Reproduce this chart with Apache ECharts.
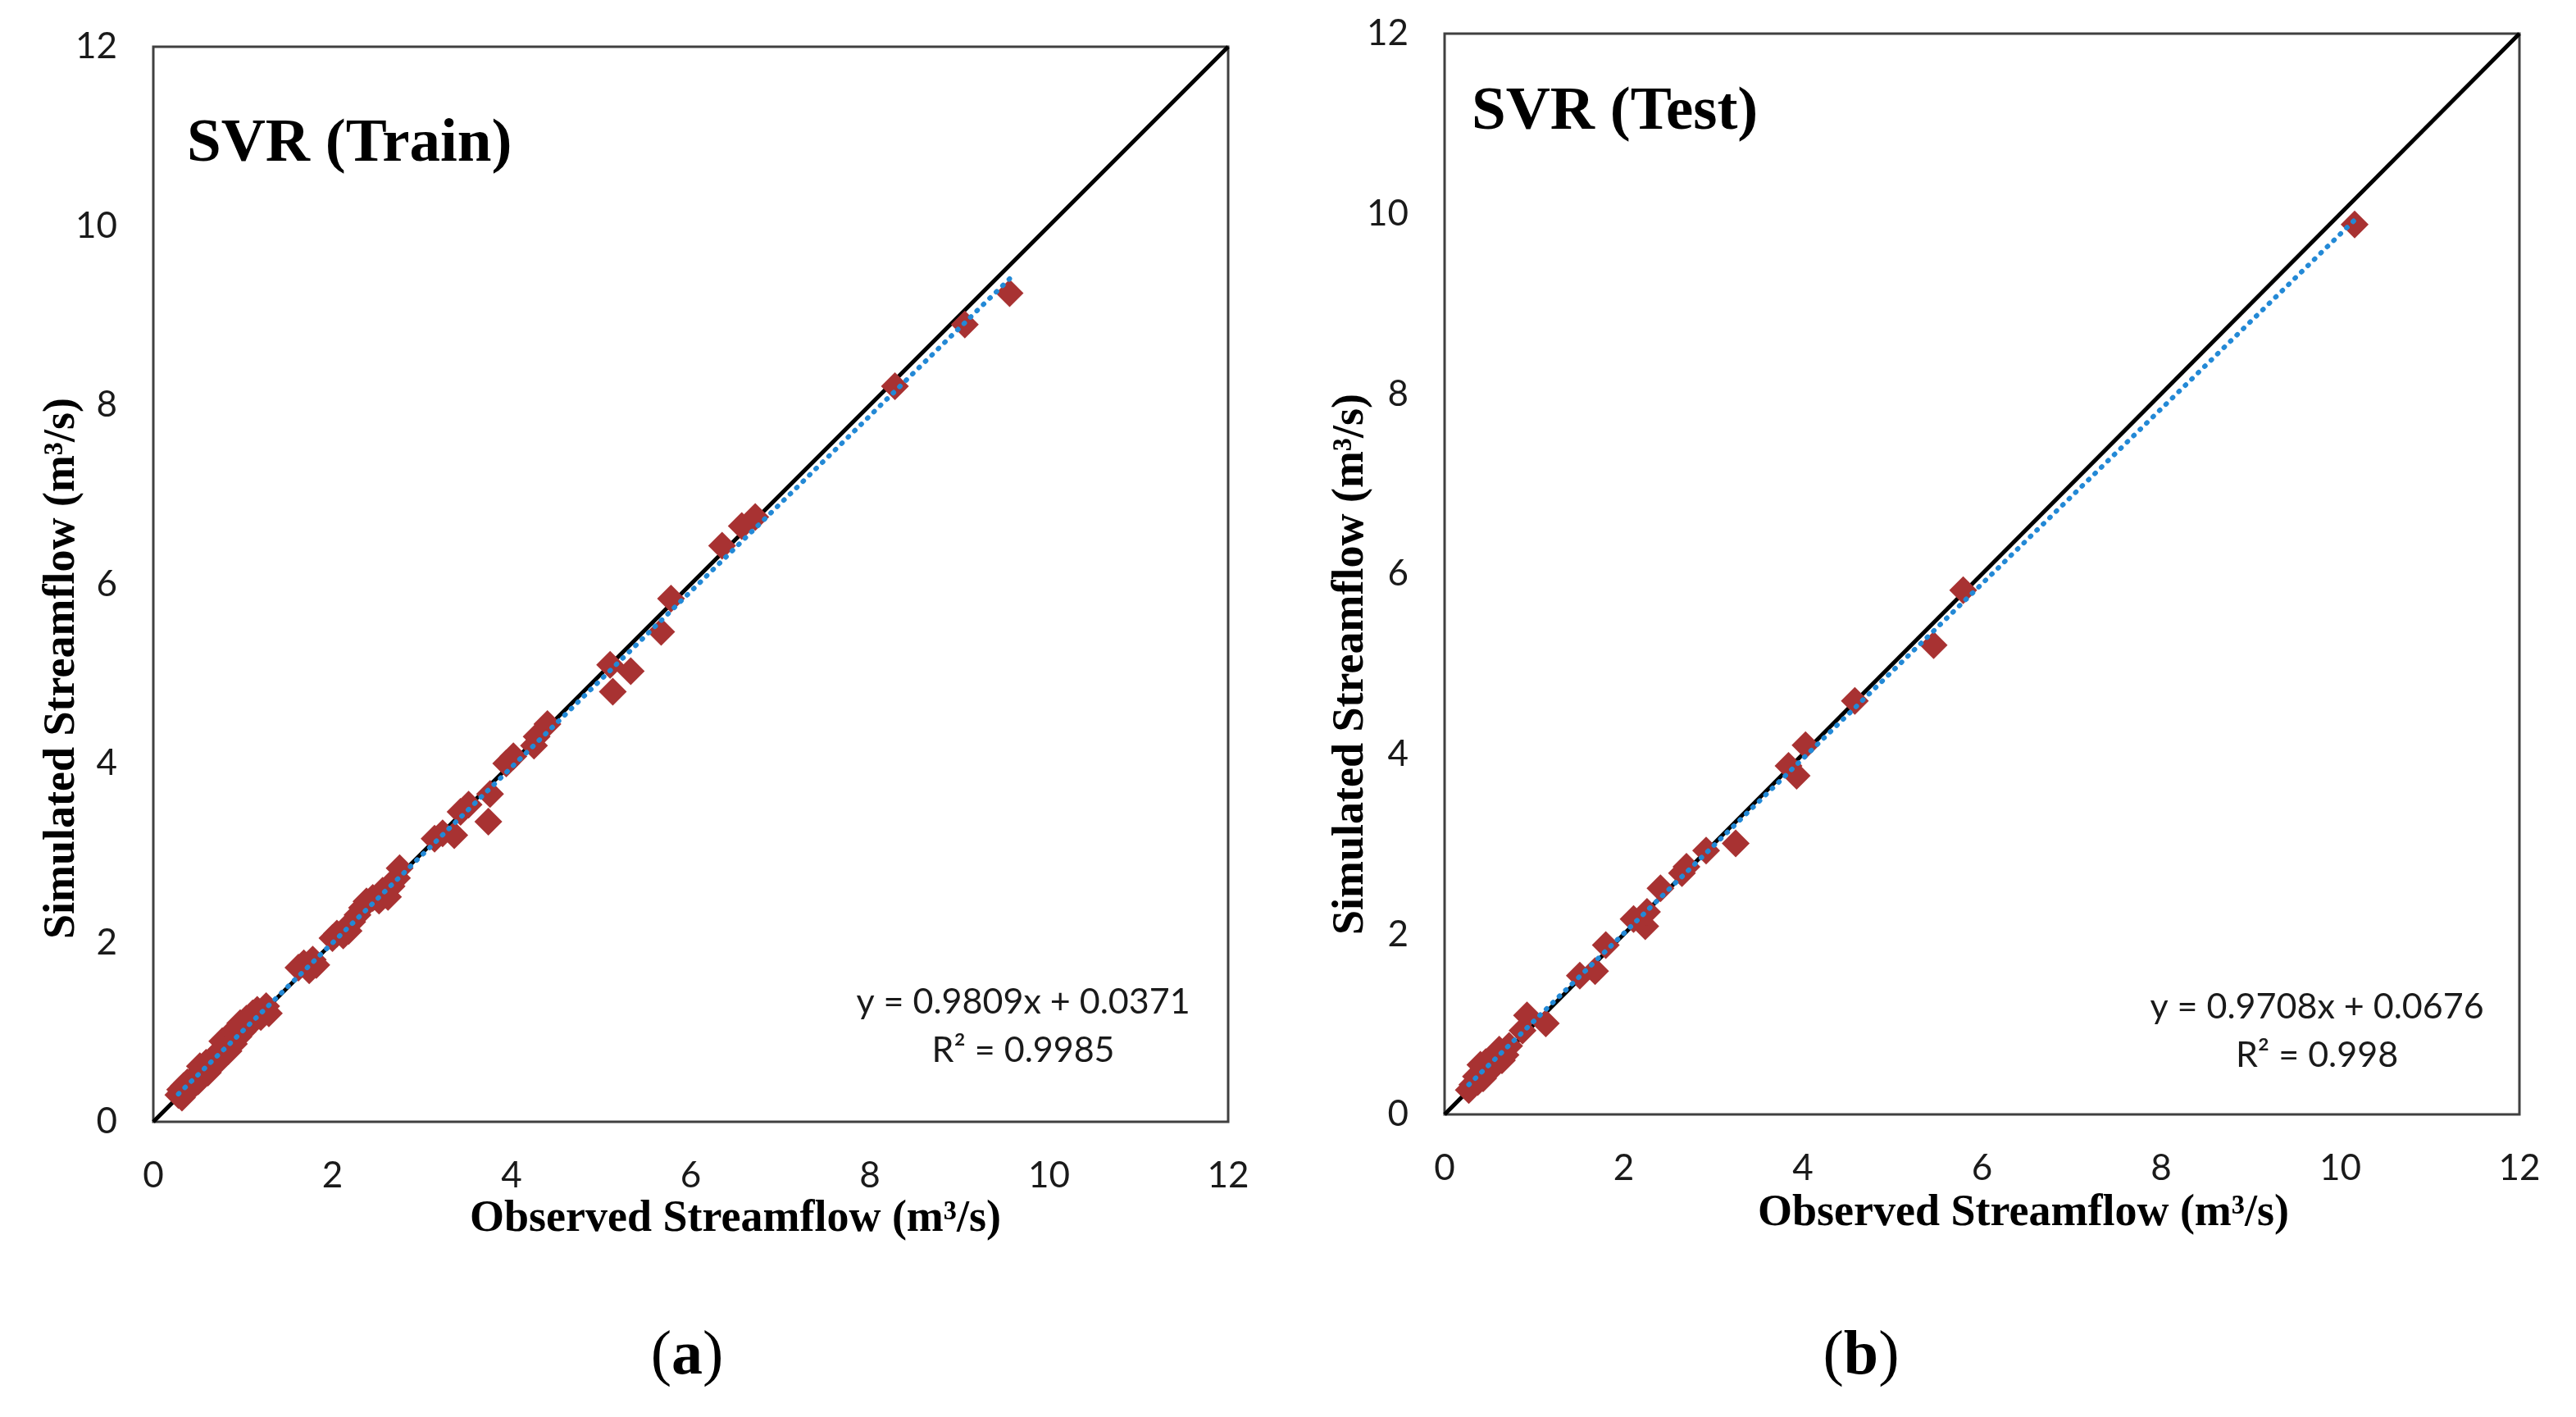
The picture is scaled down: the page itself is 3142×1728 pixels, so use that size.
<!DOCTYPE html>
<html><head><meta charset="utf-8">
<script src="https://cdn.jsdelivr.net/npm/echarts/dist/echarts.min.js"></script>
<style>html,body{margin:0;padding:0;background:#fff}#c{width:3142px;height:1728px}</style>
</head><body><div id="c"></div>
<script>
// ---------- data ----------
const axisTicks = [0, 2, 4, 6, 8, 10, 12];

const trainObs = [0.28,0.30,0.32,0.34,0.36,0.38,0.40,0.43,0.45,0.48,0.50,0.52,0.54,0.57,0.59,0.61,0.64,0.66,0.69,0.71,0.74,0.77,0.79,0.82,0.84,0.87,0.90,0.92,0.95,0.97,1.00,1.04,1.07,1.11,1.16,1.20,1.26,1.29,
  1.62,1.68,1.74,1.78,1.82,
  2.00,2.05,2.12,2.18,2.22,2.28,2.33,2.38,2.45,2.52,2.56,2.62,2.66,2.72,2.75,
  3.14,3.23,3.36,3.43,3.52,3.74,3.76,3.94,4.02,4.25,4.28,4.40,
  5.10,5.13,5.33,5.67,5.78,6.35,6.57,6.72,8.28,9.06,9.56];
const trainSim = [0.30,0.36,0.27,0.40,0.33,0.44,0.37,0.47,0.41,0.52,0.45,0.62,0.50,0.58,0.66,0.55,0.62,0.70,0.64,0.76,0.70,0.90,0.77,0.86,0.79,0.93,0.87,1.04,0.95,1.10,1.01,1.15,1.08,1.21,1.25,1.17,1.29,1.21,
  1.72,1.77,1.69,1.81,1.75,
  2.05,2.10,2.08,2.13,2.23,2.31,2.39,2.46,2.50,2.47,2.58,2.51,2.63,2.72,2.83,
  3.16,3.22,3.20,3.46,3.54,3.35,3.66,4.00,4.08,4.20,4.30,4.44,
  5.10,4.80,5.03,5.47,5.84,6.43,6.65,6.75,8.21,8.90,9.25];

const testObs = [0.27,0.31,0.35,0.37,0.40,0.43,0.46,0.50,0.53,0.57,0.61,0.64,0.68,0.72,
  0.87,0.92,1.13,1.51,1.68,1.80,2.11,2.24,2.26,2.41,2.65,2.70,2.92,3.25,3.84,3.93,4.03,4.58,5.46,5.79,10.16];
const testSim = [0.27,0.33,0.42,0.36,0.55,0.40,0.58,0.50,0.62,0.55,0.72,0.60,0.66,0.76,
  0.93,1.10,1.01,1.54,1.59,1.88,2.17,2.09,2.25,2.51,2.68,2.75,2.93,3.01,3.87,3.76,4.10,4.59,5.21,5.82,9.88];

// fitted trendline end points
const trainFitX = [0.28, 9.56];
const trainFitY = [0.31, 9.41];
const testFitX = [0.27, 10.16];
const testFitY = [0.33, 9.93];
// 1:1 line
const oneToOne = [0, 12];

const panelTitles = ['SVR (Train)', 'SVR (Test)'];
const equations = ['y = 0.9809x + 0.0371', 'y = 0.9708x + 0.0676'];
const r2Texts = ['R\u00B2 = 0.9985', 'R\u00B2 = 0.998'];
const panelLetters = ['a', 'b'];
const xTitle = 'Observed Streamflow (m\u00B3/s)';
const yTitle = 'Simulated Streamflow (m\u00B3/s)';

// ---------- chart ----------
const zip = (a, b) => a.map((v, i) => [v, b[i]]);
const chart = echarts.init(document.getElementById('c'), null, {renderer: 'canvas'});

const tickFont = 'Lato';
const serif = '"Liberation Serif", "Times New Roman", serif';
const diamondColor = '#A83232';
const fitColor = '#2389D6';

function makeAxis(idx) {
  return {
    type: 'value', gridIndex: idx,
    min: axisTicks[0], max: axisTicks[axisTicks.length - 1],
    interval: axisTicks[1] - axisTicks[0],
    axisLine: {show: false}, axisTick: {show: false}, splitLine: {show: false},
    axisLabel: {fontFamily: tickFont, fontSize: 44, color: '#1a1a1a', margin: 44}
  };
}

const grids = [
  {left: 187, top: 57, width: 1311, height: 1311},
  {left: 1762, top: 41, width: 1311, height: 1318}
];

function seriesFor(idx, obs, sim, fx, fy) {
  return [
    {type: 'line', xAxisIndex: idx, yAxisIndex: idx, data: zip(oneToOne, oneToOne),
     symbol: 'none', silent: true, lineStyle: {color: '#000', width: 5}, z: 2},
    {type: 'scatter', xAxisIndex: idx, yAxisIndex: idx, data: zip(obs, sim),
     symbol: 'diamond', symbolSize: 34, itemStyle: {color: diamondColor, opacity: 1}, z: 3},
    {type: 'line', xAxisIndex: idx, yAxisIndex: idx, data: zip(fx, fy),
     symbol: 'none', silent: true,
     lineStyle: {color: fitColor, width: 6, type: [1, 10], cap: 'round'}, z: 4}
  ];
}

function txt(x, y, text, font, opts) {
  return Object.assign({
    type: 'text', x: x, y: y, z: 100,
    style: Object.assign({
      text: text, font: font, fill: '#000',
      align: 'center', textAlign: 'center',
      verticalAlign: 'middle', textVerticalAlign: 'middle'
    }, (opts && opts.style) || {})
  }, (opts && opts.el) || {});
}

const graphics = [
  // panel titles
  txt(228, 177, panelTitles[0], 'bold 75px ' + serif, {style: {align: 'left', textAlign: 'left'}}),
  txt(1795, 138, panelTitles[1], 'bold 75px ' + serif, {style: {align: 'left', textAlign: 'left'}}),
  // x axis titles
  txt(897, 1487, xTitle, 'bold 54px ' + serif),
  txt(2468, 1480, xTitle, 'bold 54px ' + serif),
  // y axis titles
  txt(76, 815, yTitle, 'bold 54px ' + serif, {el: {rotation: Math.PI / 2}}),
  txt(1648, 810, yTitle, 'bold 54px ' + serif, {el: {rotation: Math.PI / 2}}),
  // equations
  txt(1248, 1222, equations[0], '43px Lato', {style: {fill: '#1a1a1a'}}),
  txt(1248, 1281, r2Texts[0], '43px Lato', {style: {fill: '#1a1a1a'}}),
  txt(2826, 1228, equations[1], '43px Lato', {style: {fill: '#1a1a1a'}}),
  txt(2826, 1287, r2Texts[1], '43px Lato', {style: {fill: '#1a1a1a'}}),
];
// panel letters (a), (b)
[[838, 1655], [2270, 1655]].forEach((p, i) => {
  graphics.push({
    type: 'text', x: p[0], y: p[1], z: 100,
    style: {
      text: '{p|(}{b|' + panelLetters[i] + '}{p|)}',
      align: 'center', textAlign: 'center', verticalAlign: 'middle', textVerticalAlign: 'middle',
      rich: {
        p: {fontFamily: serif, fontSize: 76, fill: '#000', color: '#000'},
        b: {fontFamily: serif, fontSize: 76, fontWeight: 'bold', fill: '#000', color: '#000'}
      }
    }
  });
});

chart.setOption({
  backgroundColor: '#ffffff',
  animation: false,
  grid: grids.map(g => Object.assign({show: true, borderColor: '#404040', borderWidth: 3, backgroundColor: 'transparent', containLabel: false}, g)),
  xAxis: [makeAxis(0), makeAxis(1)],
  yAxis: [makeAxis(0), makeAxis(1)],
  series: [].concat(
    seriesFor(0, trainObs, trainSim, trainFitX, trainFitY),
    seriesFor(1, testObs, testSim, testFitX, testFitY)
  ),
  graphic: graphics
});
</script></body></html>
